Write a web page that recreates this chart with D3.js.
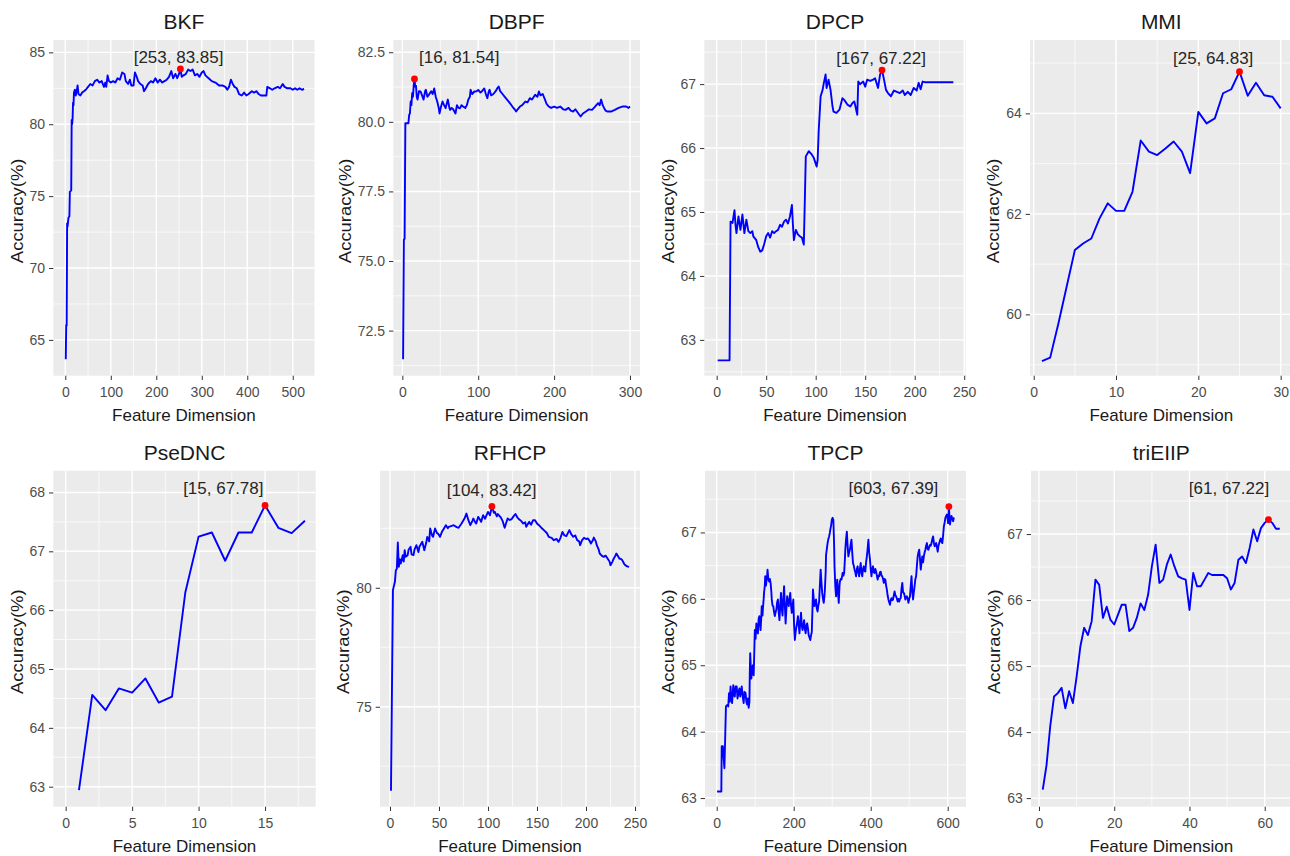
<!DOCTYPE html>
<html><head><meta charset="utf-8">
<script src="https://cdn.jsdelivr.net/npm/d3@7"></script>
<style>body{margin:0;background:#fff} svg{display:block} text{font-family:'Liberation Sans',Arial,sans-serif}</style>
</head><body><svg id="c" width="1290" height="856"></svg>
<script>
// ---------------- DATA ----------------
const titles = ['BKF','DBPF','DPCP','MMI','PseDNC','RFHCP','TPCP','triEIIP'];
const xAxisTitle = 'Feature Dimension';
const yAxisTitle = 'Accuracy(%)';

const bkfData = [[1,63.66],[2,66.04],[3,66.0],[4,73.1],[5,72.9],[7,73.5],[9,73.6],[10,75.3],[13,75.4],[14,80.3],[15,80.0],[16,80.4],[17,81.5],[18,81.3],[19,82.2],[21,82.4],[23,82.0],[25,82.3],[27,82.7],[29,82.1],[33,82.0],[37,82.2],[41,82.3],[45,82.4],[50,82.6],[55,82.8],[60,82.7],[65,83.0],[70,83.1],[75,82.9],[80,83.0],[85,82.6],[88,82.9],[90,82.6],[93,83.4],[96,83.0],[100,82.9],[105,83.0],[110,82.9],[115,83.2],[120,83.1],[125,83.6],[130,83.5],[133,83.0],[138,82.8],[142,83.1],[145,82.7],[150,82.7],[153,83.6],[157,83.3],[160,83.0],[165,82.8],[170,82.7],[173,82.3],[177,82.5],[182,82.8],[188,83.0],[193,82.9],[198,83.2],[203,82.9],[208,83.1],[213,82.9],[218,83.0],[223,83.1],[228,83.3],[233,83.7],[237,83.2],[242,83.5],[246,83.2],[250,83.5],[253,83.85],[256,83.3],[260,83.4],[265,83.5],[270,83.8],[275,83.7],[280,83.8],[285,83.4],[290,83.5],[295,83.3],[300,83.6],[304,83.7],[308,83.4],[315,83.2],[322,83.0],[330,82.9],[338,82.7],[345,82.7],[352,82.6],[356,82.4],[360,82.6],[364,83.1],[368,82.8],[372,82.6],[377,82.5],[382,82.1],[388,82.0],[393,82.2],[398,82.0],[403,82.1],[410,82.3],[415,82.2],[420,82.3],[425,82.1],[430,82.0],[437,82.0],[442,82.0],[444,82.6],[450,82.5],[455,82.4],[460,82.5],[467,82.6],[472,82.5],[478,82.8],[482,82.6],[488,82.5],[495,82.5],[500,82.4],[505,82.5],[510,82.4],[515,82.5],[520,82.4],[525,82.45]];

const dbpfData = [[1,71.47],[2,75.76],[3,75.8],[4,79.95],[6,79.95],[8,79.95],[9,80.25],[10,80.3],[11,80.73],[12,80.6],[13,81.03],[14,80.9],[15,81.3],[16,81.54],[17,81.27],[18,81.3],[19,80.9],[20,80.8],[22,81.1],[24,81.09],[26,80.95],[28,80.8],[30,81.1],[31,81.15],[33,80.9],[35,80.97],[38,81.1],[40,81.0],[42,81.2],[44,80.9],[46,80.73],[48,80.5],[49,80.3],[51,80.55],[53,80.73],[55,80.6],[57,80.49],[59,80.7],[60,80.8],[62,80.5],[63,80.43],[65,80.5],[67,80.45],[70,80.3],[72,80.6],[74,80.5],[76,80.49],[78,80.6],[80,80.55],[83,80.5],[85,80.6],[87,80.8],[89,80.9],[90,81.15],[92,81.0],[95,81.09],[98,81.1],[100,81.15],[103,81.05],[105,81.1],[108,81.2],[110,81.0],[112,80.85],[114,81.1],[115,81.15],[117,80.95],[120,81.0],[123,81.1],[125,81.2],[127,81.27],[129,81.1],[132,81.0],[135,80.9],[138,80.8],[141,80.7],[145,80.55],[148,80.45],[150,80.37],[152,80.45],[155,80.55],[158,80.6],[162,80.73],[165,80.7],[168,80.85],[171,80.8],[175,80.97],[178,80.9],[180,81.09],[182,80.95],[185,81.0],[188,80.8],[190,80.65],[193,80.55],[196,80.5],[200,80.55],[204,80.5],[208,80.55],[212,80.45],[215,80.43],[219,80.5],[222,80.4],[225,80.37],[228,80.45],[232,80.3],[235,80.19],[238,80.3],[242,80.37],[246,80.45],[250,80.43],[254,80.55],[258,80.67],[260,80.6],[262,80.8],[264,80.6],[266,80.49],[268,80.4],[270,80.37],[275,80.37],[280,80.43],[285,80.5],[290,80.55],[295,80.55],[298,80.5],[300,80.55]];

const dpcpData = [[1,62.68],[13,62.68],[14,64.85],[16,64.83],[18,65.03],[19,64.8],[20,64.67],[22,64.93],[24,64.72],[26,64.96],[28,64.67],[30,64.88],[32,64.7],[34,64.67],[36,64.7],[37,64.62],[40,64.56],[42,64.45],[44,64.38],[46,64.4],[48,64.5],[50,64.62],[52,64.67],[54,64.6],[56,64.7],[58,64.67],[60,64.7],[62,64.72],[64,64.8],[66,64.77],[68,64.85],[70,64.88],[72,64.82],[74,64.93],[76,65.11],[77,64.8],[78,64.56],[80,64.72],[82,64.65],[84,64.62],[86,64.6],[88,64.49],[89,65.16],[90,65.87],[93,65.95],[96,65.9],[98,65.85],[101,65.71],[102,65.82],[103,66.26],[105,66.81],[107,66.91],[108,67.0],[110,67.15],[111,66.94],[113,67.07],[115,66.91],[117,66.65],[118,66.57],[121,66.55],[124,66.6],[127,66.78],[129,66.75],[132,66.68],[135,66.65],[137,66.7],[139,66.73],[142,66.52],[143,67.04],[145,67.0],[148,67.04],[150,66.96],[152,67.07],[155,67.05],[158,67.07],[160,67.09],[163,66.94],[165,67.15],[167,67.22],[169,67.07],[171,66.91],[173,66.86],[176,66.81],[179,66.9],[182,66.88],[185,66.86],[188,66.9],[190,66.83],[193,66.88],[196,66.83],[199,66.94],[202,66.9],[204,67.02],[206,66.92],[208,67.04],[210,67.03],[239,67.03]];

const mmiData = [[1,59.07],[2,59.14],[3,59.82],[4,60.55],[5,61.28],[6,61.41],[7,61.51],[8,61.91],[9,62.21],[10,62.06],[11,62.06],[12,62.44],[13,63.46],[14,63.24],[15,63.17],[16,63.3],[17,63.44],[18,63.24],[19,62.81],[20,64.03],[21,63.8],[22,63.9],[23,64.4],[24,64.48],[25,64.83],[26,64.35],[27,64.61],[28,64.36],[29,64.33],[30,64.1]];

const psedncData = [[1,62.94],[2,64.56],[3,64.3],[4,64.67],[5,64.6],[6,64.84],[7,64.43],[8,64.53],[9,66.3],[10,67.25],[11,67.32],[12,66.84],[13,67.32],[14,67.32],[15,67.78],[16,67.4],[17,67.31],[18,67.52]];

const rfhcpData = [[1,71.47],[2,75.7],[3,79.9],[5,80.25],[6,80.74],[7,80.8],[8,81.9],[9,80.88],[10,81.2],[11,81.02],[13,81.37],[14,81.1],[15,81.58],[16,81.3],[18,81.37],[19,81.6],[21,81.72],[22,81.4],[24,81.37],[25,81.6],[27,81.79],[29,81.5],[30,81.72],[33,81.93],[35,81.58],[37,81.9],[38,82.14],[40,81.95],[41,82.49],[43,82.2],[44,82.14],[46,82.49],[48,82.3],[49,82.28],[51,82.14],[53,82.35],[54,82.42],[57,82.63],[59,82.5],[60,82.56],[63,82.6],[65,82.63],[68,82.55],[70,82.52],[73,82.7],[76,82.91],[78,83.12],[80,82.84],[82,82.63],[84,82.8],[85,82.91],[87,82.75],[88,82.7],[90,82.98],[92,82.85],[93,82.77],[95,83.05],[97,82.9],[98,83.0],[100,83.19],[102,83.05],[104,83.42],[106,83.15],[107,83.19],[109,83.0],[110,83.1],[113,82.96],[115,82.8],[117,82.52],[120,82.91],[122,82.85],[124,82.88],[126,83.0],[128,83.1],[130,82.95],[132,82.87],[134,82.8],[136,82.7],[138,82.75],[139,82.56],[141,82.7],[142,82.77],[144,82.65],[146,82.84],[148,82.84],[150,82.7],[152,82.63],[155,82.5],[157,82.42],[160,82.3],[162,82.14],[165,82.1],[167,82.0],[170,82.05],[172,81.93],[174,82.1],[176,82.35],[178,82.2],[180,82.17],[183,82.42],[185,82.25],[187,82.14],[189,82.2],[191,82.0],[193,81.95],[194,81.79],[196,82.0],[198,82.1],[200,82.05],[202,82.07],[204,81.95],[205,81.86],[207,82.0],[208,82.11],[210,81.95],[211,81.79],[213,81.6],[214,81.44],[216,81.35],[218,81.3],[220,81.35],[222,81.23],[224,81.1],[225,80.95],[227,81.1],[228,81.2],[230,81.35],[231,81.44],[233,81.3],[234,81.23],[236,81.2],[237,81.16],[239,81.0],[240,80.95],[242,80.9],[244,80.88]];

const tpcpData = [[1,63.1],[12,63.1],[13,63.78],[16,63.78],[18,63.6],[20,63.45],[22,63.9],[24,64.38],[27,64.4],[30,64.38],[32,64.58],[34,64.45],[36,64.68],[38,64.5],[40,64.43],[42,64.6],[43,64.7],[45,64.55],[47,64.53],[49,64.68],[52,64.68],[54,64.5],[57,64.6],[59,64.65],[61,64.53],[63,64.6],[65,64.68],[67,64.55],[70,64.43],[72,64.6],[75,64.58],[77,64.45],[79,64.41],[81,64.5],[83,64.36],[85,64.45],[86,64.9],[87,65.18],[89,64.9],[90,64.8],[92,64.95],[94,65.0],[96,64.85],[97,65.05],[99,65.53],[101,65.4],[103,65.63],[105,65.5],[107,65.48],[109,65.7],[111,65.74],[113,65.6],[114,65.53],[116,65.75],[117,65.89],[119,65.75],[120,65.85],[122,66.0],[123,66.09],[125,66.2],[126,66.34],[128,66.2],[129,66.26],[131,66.35],[132,66.44],[134,66.3],[136,66.26],[138,66.3],[140,66.24],[142,66.1],[143,65.99],[145,65.9],[147,65.89],[149,65.8],[151,65.74],[153,65.8],[155,65.84],[157,65.95],[159,65.99],[161,65.8],[163,65.68],[165,65.9],[167,66.09],[169,65.85],[171,65.75],[173,66.0],[175,66.19],[177,65.9],[179,65.63],[181,65.85],[183,66.04],[185,65.95],[187,65.89],[189,66.0],[191,66.09],[193,65.9],[195,65.79],[197,65.9],[199,65.99],[201,65.6],[203,65.38],[205,65.5],[207,65.58],[209,65.65],[211,65.74],[213,65.6],[215,65.48],[217,65.65],[219,65.79],[221,65.6],[223,65.53],[225,65.6],[227,65.68],[229,65.55],[231,65.48],[233,65.6],[235,65.63],[237,65.55],[239,65.45],[241,65.42],[243,65.38],[245,65.45],[247,65.5],[249,65.9],[250,66.14],[252,66.0],[254,65.89],[256,65.95],[258,65.99],[260,65.85],[262,65.81],[264,65.9],[266,65.96],[268,66.2],[270,66.44],[272,66.25],[274,66.09],[276,66.0],[278,65.94],[280,66.05],[281,66.14],[283,66.4],[284,66.66],[286,66.75],[288,66.84],[290,66.9],[292,66.94],[294,67.0],[295,67.04],[297,67.1],[299,67.19],[301,67.22],[303,67.19],[305,66.8],[306,66.49],[308,66.2],[310,66.04],[312,66.2],[313,66.29],[315,66.1],[317,65.94],[319,66.2],[320,66.26],[322,66.3],[324,66.29],[326,66.35],[327,66.39],[329,66.35],[331,66.39],[333,66.6],[334,66.74],[336,66.9],[338,67.01],[340,66.8],[342,66.64],[344,66.7],[346,66.74],[348,66.82],[350,66.89],[352,66.7],[354,66.54],[356,66.5],[358,66.44],[360,66.4],[362,66.34],[364,66.45],[366,66.49],[368,66.4],[370,66.34],[372,66.45],[374,66.54],[376,66.4],[378,66.34],[380,66.45],[382,66.49],[384,66.42],[386,66.41],[388,66.55],[390,66.64],[392,66.75],[394,66.89],[396,66.7],[398,66.6],[400,66.45],[402,66.34],[404,66.45],[406,66.49],[408,66.4],[410,66.39],[412,66.45],[414,66.41],[416,66.35],[418,66.29],[420,66.35],[422,66.34],[424,66.4],[426,66.41],[428,66.35],[430,66.34],[432,66.3],[434,66.24],[436,66.3],[438,66.29],[440,66.2],[442,66.14],[444,66.05],[446,65.99],[448,65.95],[450,65.91],[452,65.98],[454,66.01],[456,65.98],[458,65.99],[460,66.05],[462,66.11],[464,66.05],[466,66.04],[468,66.0],[470,65.96],[472,66.0],[474,65.96],[476,66.0],[478,66.01],[480,66.15],[482,66.24],[484,66.1],[486,66.09],[488,66.05],[490,65.99],[492,66.02],[494,66.04],[496,66.0],[498,65.94],[500,66.0],[502,66.04],[504,66.2],[506,66.34],[508,66.1],[510,65.99],[512,66.1],[514,66.19],[516,66.3],[518,66.34],[520,66.5],[522,66.64],[524,66.7],[526,66.74],[528,66.6],[530,66.44],[532,66.55],[534,66.64],[536,66.55],[538,66.64],[540,66.7],[542,66.74],[544,66.8],[546,66.84],[548,66.75],[550,66.74],[552,66.78],[554,66.81],[556,66.8],[558,66.84],[560,66.9],[562,66.94],[564,66.85],[566,66.79],[568,66.82],[570,66.84],[572,66.78],[574,66.71],[576,66.8],[578,66.84],[580,66.88],[582,66.91],[584,66.86],[586,66.84],[588,66.95],[590,67.09],[592,67.15],[594,67.22],[596,67.25],[598,67.27],[600,67.2],[601,67.14],[602,67.25],[603,67.39],[604,67.3],[606,67.12],[608,67.2],[610,67.25],[612,67.2],[614,67.17],[616,67.22],[617,67.22]];

const trieiipData = [[1,63.13],[2,63.5],[3,64.1],[4,64.54],[5,64.59],[6,64.67],[7,64.36],[8,64.62],[9,64.44],[10,64.84],[11,65.3],[12,65.58],[13,65.47],[14,65.68],[15,66.31],[16,66.23],[17,65.73],[18,65.9],[19,65.7],[20,65.63],[21,65.78],[22,65.93],[23,65.93],[24,65.53],[25,65.58],[26,65.73],[27,65.95],[28,65.85],[29,66.08],[30,66.51],[31,66.84],[32,66.26],[33,66.31],[34,66.54],[35,66.69],[36,66.51],[37,66.36],[38,66.33],[39,66.31],[40,65.85],[41,66.41],[42,66.21],[43,66.21],[44,66.31],[45,66.41],[46,66.38],[47,66.38],[48,66.38],[49,66.38],[50,66.33],[51,66.16],[52,66.26],[53,66.61],[54,66.66],[55,66.56],[56,66.79],[57,67.07],[58,66.89],[59,67.09],[60,67.17],[61,67.22],[62,67.17],[63,67.08],[64,67.08]];

const seriesData = [bkfData, dbpfData, dpcpData, mmiData, psedncData, rfhcpData, tpcpData, trieiipData];

// best point of each panel [dimension, accuracy]
const peaks = [[253,83.85],[16,81.54],[167,67.22],[25,64.83],[15,67.78],[104,83.42],[603,67.39],[61,67.22]];
// where the peak label text sits, in data units [x, y]
const labelAnchors = [[249,84.58],[75,82.28],[166,67.39],[21.8,65.07],[11.86,68.05],[103.7,84.06],[459,67.64],[50.5,67.67]];

const xTickValues = [[0,100,200,300,400,500],[0,100,200,300],[0,50,100,150,200,250],[0,10,20,30],[0,5,10,15],[0,50,100,150,200,250],[0,200,400,600],[0,20,40,60]];
const yTickValues = [[65,70,75,80,85],[72.5,75,77.5,80,82.5],[63,64,65,66,67],[60,62,64],[63,64,65,66,67,68],[75,80],[63,64,65,66,67],[63,64,65,66,67]];
const yTickFormats = ['d','.1f','d','d','d','d','d','d'];

// ---------------- LAYOUT ----------------
const rows = [{top:40, bottom:375.7},{top:470.7, bottom:806.7}];
const layout = [
  {l:53.3, r:314.5, row:0, xd:[-26.4,547.8], yd:[62.51,85.86]},
  {l:393.3, r:640,  row:0, xd:[-11.9,313.2], yd:[70.88,82.94]},
  {l:704.3, r:965.7,row:0, xd:[-12.5,251.5], yd:[62.44,67.69]},
  {l:1030,  r:1292.6,row:0, xd:[-0.45,31.45], yd:[58.78,65.46]},
  {l:53.3, r:315.7, row:1, xd:[-0.93,18.81], yd:[62.66,68.37]},
  {l:380,  r:640,   row:1, xd:[-10.2,255.1], yd:[70.8,84.92]},
  {l:705,  r:966,   row:1, xd:[-30.4,647.5], yd:[62.87,67.93]},
  {l:1031, r:1291.6,row:1, xd:[-2.13,67.15], yd:[62.87,67.96]}
];

const svg = d3.select('#c');
svg.append('rect').attr('width',1290).attr('height',856).attr('fill','#fff');

function minors(ticks, dom){
  const step = ticks.length>1 ? ticks[1]-ticks[0] : 1;
  const c = [ticks[0]-step/2].concat(ticks.map(t=>t+step/2));
  return c.filter(v=>v>dom[0] && v<dom[1]);
}

layout.forEach((L,i)=>{
  const top = rows[L.row].top, bottom = rows[L.row].bottom;
  const x = d3.scaleLinear().domain(L.xd).range([L.l, L.r]);
  const y = d3.scaleLinear().domain(L.yd).range([bottom, top]);
  const g = svg.append('g');
  g.append('rect').attr('x',L.l).attr('y',top).attr('width',L.r-L.l).attr('height',bottom-top).attr('fill','#EBEBEB');
  const xt = xTickValues[i], yt = yTickValues[i];
  // minor grid
  g.selectAll('.mx').data(minors(xt,L.xd)).join('line')
    .attr('x1',d=>x(d)).attr('x2',d=>x(d)).attr('y1',top).attr('y2',bottom)
    .attr('stroke','#fff').attr('stroke-width',0.7);
  g.selectAll('.my').data(minors(yt,L.yd)).join('line')
    .attr('y1',d=>y(d)).attr('y2',d=>y(d)).attr('x1',L.l).attr('x2',L.r)
    .attr('stroke','#fff').attr('stroke-width',0.7);
  // major grid
  g.selectAll('.Mx').data(xt.filter(v=>v>=L.xd[0]&&v<=L.xd[1])).join('line')
    .attr('x1',d=>x(d)).attr('x2',d=>x(d)).attr('y1',top).attr('y2',bottom)
    .attr('stroke','#fff').attr('stroke-width',1.4);
  g.selectAll('.My').data(yt).join('line')
    .attr('y1',d=>y(d)).attr('y2',d=>y(d)).attr('x1',L.l).attr('x2',L.r)
    .attr('stroke','#fff').attr('stroke-width',1.4);
  // line
  const line = d3.line().x(d=>x(d[0])).y(d=>y(d[1]));
  g.append('path').datum(seriesData[i]).attr('d',line)
    .attr('fill','none').attr('stroke','#0000FF').attr('stroke-width',1.9).attr('stroke-linejoin','round');
  // peak
  const p = peaks[i];
  g.append('circle').attr('cx',x(p[0])).attr('cy',y(p[1])).attr('r',3.4).attr('fill','#FF0000');
  const a = labelAnchors[i];
  g.append('text').attr('x',x(a[0])).attr('y',y(a[1])+4.4)
    .attr('text-anchor','middle').attr('font-size',17).attr('fill','#262626')
    .text('[' + p[0] + ', ' + p[1].toFixed(2) + ']');
  // axes
  const ax = g.append('g').attr('transform',`translate(0,${bottom})`)
    .call(d3.axisBottom(x).tickValues(xt).tickSize(4.3).tickPadding(7.5).tickFormat(d3.format('d')));
  const ay = g.append('g').attr('transform',`translate(${L.l},0)`)
    .call(d3.axisLeft(y).tickValues(yt).tickSize(4.3).tickPadding(4).tickFormat(d3.format(yTickFormats[i])));
  [ax,ay].forEach(a=>{
    a.select('.domain').remove();
    a.selectAll('.tick line').attr('stroke','#333').attr('stroke-width',1);
    a.selectAll('.tick text').attr('font-size',14).attr('fill','#4D4D4D')
      .attr('font-family',"'Liberation Sans',Arial,sans-serif");
  });
  // titles
  g.append('text').attr('x',(L.l+L.r)/2).attr('y',top-10.8).attr('text-anchor','middle')
    .attr('font-size',21).attr('fill','#1a1a1a').text(titles[i]);
  g.append('text').attr('x',(L.l+L.r)/2).attr('y',bottom+45.3).attr('text-anchor','middle')
    .attr('font-size',17).attr('fill','#1a1a1a').text(xAxisTitle);
  const bb = ay.node().getBBox();
  const ty = (top+bottom)/2 + 3;
  g.append('text').attr('transform',`translate(${L.l+bb.x-6.8},${ty}) rotate(-90) scale(1.12,1)`).attr('text-anchor','middle')
    .attr('font-size',16.5).attr('fill','#1a1a1a').text(yAxisTitle);
});
</script></body></html>
